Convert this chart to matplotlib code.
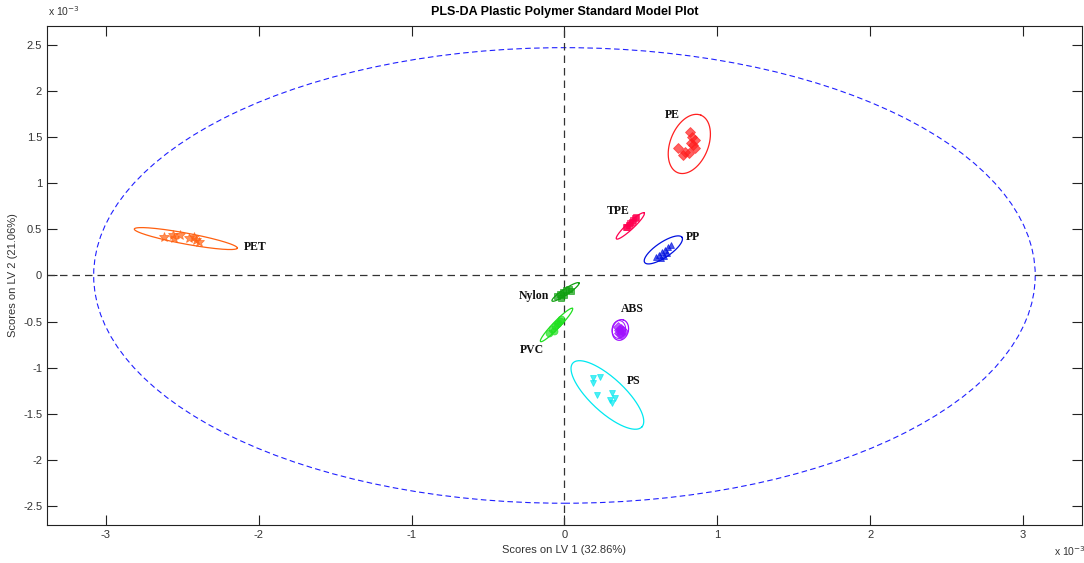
import numpy as np
import matplotlib.pyplot as plt
from matplotlib.patches import Ellipse
from matplotlib.ticker import MultipleLocator

# scores (units of 1e-3)
pe_x = [0.824, 0.837, 0.856, 0.843, 0.745, 0.791, 0.817, 0.778, 0.856, 0.83]
pe_y = [1.556, 1.502, 1.47, 1.415, 1.383, 1.34, 1.329, 1.307, 1.383, 1.44]
tpe_x = [0.40, 0.42, 0.44, 0.45, 0.46, 0.43, 0.41, 0.47]
tpe_y = [0.53, 0.55, 0.58, 0.60, 0.62, 0.57, 0.52, 0.63]
pp_x = [0.60, 0.62, 0.64, 0.66, 0.68, 0.70, 0.63, 0.67, 0.65]
pp_y = [0.20, 0.22, 0.25, 0.28, 0.31, 0.33, 0.19, 0.24, 0.21]
pet_x = [-2.62, -2.56, -2.556, -2.516, -2.458, -2.425, -2.41, -2.39]
pet_y = [0.418, 0.44, 0.407, 0.44, 0.407, 0.418, 0.385, 0.363]
nylon_x = [-0.05, -0.03, -0.01, 0.01, 0.03, 0.04, 0.0, -0.02]
nylon_y = [-0.22, -0.20, -0.18, -0.16, -0.15, -0.17, -0.21, -0.24]
pvc_x = [-0.10, -0.08, -0.06, -0.04, -0.03, -0.02, -0.07, -0.05]
pvc_y = [-0.62, -0.58, -0.55, -0.52, -0.49, -0.47, -0.60, -0.53]
abs_x = [0.35, 0.37, 0.36, 0.38, 0.37, 0.36]
abs_y = [-0.56, -0.58, -0.62, -0.60, -0.64, -0.59]
ps_x = [0.19, 0.235, 0.19, 0.21, 0.314, 0.333, 0.30, 0.314]
ps_y = [-1.11, -1.10, -1.17, -1.30, -1.27, -1.33, -1.35, -1.38]

# confidence ellipses: center (data), half axes as seen on screen (px), screen angle (deg)
ell_cx = [0.817, 0.431, 0.647, -2.477, 0.007, -0.052, 0.366, 0.281]
ell_cy = [1.426, 0.537, 0.277, 0.40, -0.179, -0.537, -0.591, -1.296]
ell_a = [31, 19, 22.5, 52.4, 16.2, 23, 10.5, 47]
ell_b = [19, 3.5, 7.5, 5.5, 3.0, 3.5, 8, 17]
ell_ang = [68, 43, 34, -10.5, 33.7, 46, 75, -42.8]

# class labels and their positions
names = ['PE', 'TPE', 'PP', 'PET', 'Nylon', 'PVC', 'ABS', 'PS']
lab_x = [0.706, 0.35, 0.84, -2.02, -0.2, -0.216, 0.444, 0.45]
lab_y = [1.74, 0.70, 0.42, 0.31, -0.22, -0.81, -0.36, -1.14]

# model limit (big dashed ellipse)
lim_a = 3.08
lim_b = 2.47

colors = ['#ff2020', '#ff0050', '#0010e0', '#ff6010', '#10a010', '#20e020', '#a010ff', '#00e8f0']
markers = ['D', 's', '^', '*', 's', 'o', 'D', 'v']
xs = [pe_x, tpe_x, pp_x, pet_x, nylon_x, pvc_x, abs_x, ps_x]
ys = [pe_y, tpe_y, pp_y, pet_y, nylon_y, pvc_y, abs_y, ps_y]

plt.rcParams['font.family'] = ['Liberation Sans', 'DejaVu Sans']

W, H = 10.84, 5.63
pos = [0.0434, 0.0675, 0.9546, 0.8865]
xlim = (-3.385, 3.385)
ylim = (-2.706, 2.706)
# pixels per data unit, to draw ellipses with on-screen axes
sx = W * 100 * pos[2] / (xlim[1] - xlim[0])
sy = H * 100 * pos[3] / (ylim[1] - ylim[0])

fig = plt.figure(figsize=(W, H), dpi=100)
ax = fig.add_axes(pos)

ax.axhline(0, color='#333333', linestyle=(0, (6, 4)), linewidth=0.9)
ax.axvline(0, color='#333333', linestyle=(0, (6, 4)), linewidth=0.9)

ax.add_patch(Ellipse((0, 0), 2 * lim_a, 2 * lim_b, fill=False,
                     edgecolor='#2020ff', linestyle=(0, (5, 3)), linewidth=0.8))

t = np.linspace(0, 2 * np.pi, 200)


def draw_ell(cx, cy, a, b, ang, col, lw=0.9):
    th = np.deg2rad(ang)
    px = a * np.cos(t) * np.cos(th) - b * np.sin(t) * np.sin(th)
    py = a * np.cos(t) * np.sin(th) + b * np.sin(t) * np.cos(th)
    ax.plot(cx + px / sx, cy + py / sy, color=col, linewidth=lw)


for i in range(len(names)):
    ms = 7 if markers[i] == '*' else 5
    ax.plot(xs[i], ys[i], linestyle='none', marker=markers[i], markersize=ms,
            color=colors[i], alpha=0.7, markeredgewidth=0.6)
    draw_ell(ell_cx[i], ell_cy[i], ell_a[i], ell_b[i], ell_ang[i], colors[i])
    ax.text(lab_x[i], lab_y[i], names[i], fontsize=8.5, fontweight='bold',
            family='Liberation Serif', ha='center', va='center', color='#111111')

# second trace around ABS
draw_ell(ell_cx[6] - 0.01, ell_cy[6] + 0.005, ell_a[6] * 0.85, ell_b[6] * 0.85,
         ell_ang[6] + 10, colors[6], lw=0.7)

ax.set_xlim(*xlim)
ax.set_ylim(*ylim)
ax.xaxis.set_major_locator(MultipleLocator(1))
ax.yaxis.set_major_locator(MultipleLocator(0.5))
ax.set_xticklabels([f'{v:g}' for v in ax.get_xticks()])
ax.set_yticklabels([f'{v:g}' for v in ax.get_yticks()])
ax.tick_params(direction='in', length=7, width=0.8, top=True, right=True,
               labelsize=8, colors='#222222')
ax.tick_params(labelcolor='#333333')
for s in ax.spines.values():
    s.set_linewidth(0.8)
    s.set_color('#222222')

ax.set_xlabel('Scores on LV 1 (32.86%)', fontsize=8, color='#333333', labelpad=4)
ax.set_ylabel('Scores on LV 2 (21.06%)', fontsize=8, color='#333333', labelpad=4)
ax.set_title('PLS-DA Plastic Polymer Standard Model Plot', fontsize=9, fontweight='bold', pad=8)

fig.text(0.044, 0.972, r'x 10$^{-3}$', fontsize=7.5, color='#333333')
fig.text(0.972, 0.012, r'x 10$^{-3}$', fontsize=7.5, color='#333333')

fig.savefig('out.png', dpi=100)
